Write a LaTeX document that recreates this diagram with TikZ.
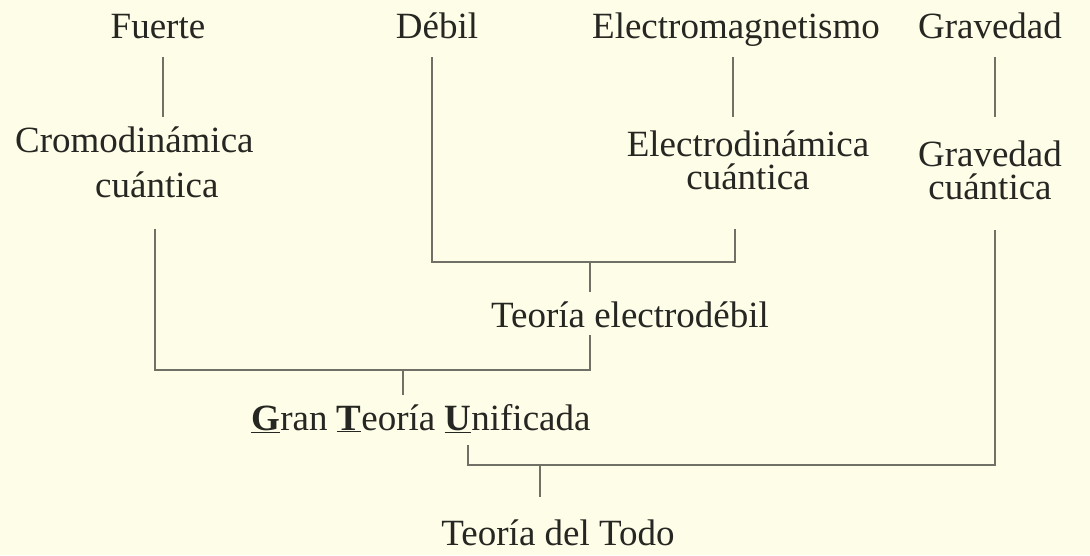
\documentclass[tikz,border=0pt]{standalone}
\usepackage{fontspec}
\setmainfont{Liberation Serif}
\usepackage{tikz}
\usetikzlibrary{calc}
\definecolor{paper}{RGB}{254,253,231}
\definecolor{ink}{RGB}{38,38,34}
\definecolor{linkgray}{RGB}{112,112,102}
\tikzset{
  term/.style={inner sep=0pt, text=ink, font=\fontsize{37}{33}\selectfont},
  link/.style={draw=linkgray, line width=2pt}
}

\begin{document}
\begin{tikzpicture}[x=1pt,y=-1pt]
    \fill[paper] (0,0) rectangle (1090,555);
    \useasboundingbox (0,0) rectangle (1090,555);

    % forces
    \node[term,anchor=base] (fuerte) at (158,38) {Fuerte};
    \node[term,anchor=base] (debil) at (437,38) {Débil};
    \node[term,anchor=base] (em) at (736,38) {Electromagnetismo};
    \node[term,anchor=base] (grav) at (990,38) {Gravedad};

    % quantum theories
    \node[term,anchor=north west,align=left] (qcd) at (15,127) {Cromodinámica\\[12pt]\hspace*{80pt}cuántica};
    \node[term,anchor=north,align=center] (qed) at (748,131) {Electrodinámica\\cuántica};
    \node[term,anchor=north,align=center] (qg) at (990,141) {Gravedad\\cuántica};

    % unifications
    \node[term,anchor=base] (ew) at (630,327) {Teoría electrodébil};
    \node[term,anchor=base] (gut) at (421,430) {\underline{\textbf{G}}ran \underline{\textbf{T}}eoría \underline{\textbf{U}}nificada};
    \node[term,anchor=base] (toe) at (558,545) {Teoría del Todo};

    \coordinate (ewj) at (590,262);
    \coordinate (gutj) at (403,370);
    \coordinate (toej) at (540,465);

    \draw[link] ($(fuerte.base)+(5,19)$) -- ($(qcd.north west)+(148,-10)$);
    \draw[link] ($(em.base)+(-3,19)$) -- ($(qed.north)+(-15,-14)$);
    \draw[link] ($(grav.base)+(5,19)$) -- ($(qg.north)+(5,-24)$);

    \draw[link] ($(debil.base)+(-5,19)$) |- (ewj) -| ($(qed.south)+(-13,39)$);
    \draw[link] (ewj) -- ($(ew.base)+(-40,-35)$);

    \draw[link] ($(qcd.south west)+(140,31)$) |- (gutj) -| ($(ew.base)+(-40,8)$);
    \draw[link] (gutj) -- ($(gut.base)+(-18,-35)$);

    \draw[link] ($(gut.base)+(47,15)$) |- (toej) -| ($(qg.south)+(5,30)$);
    \draw[link] (toej) -- ($(toe.base)+(-18,-48)$);
  \end{tikzpicture}
\end{document}
